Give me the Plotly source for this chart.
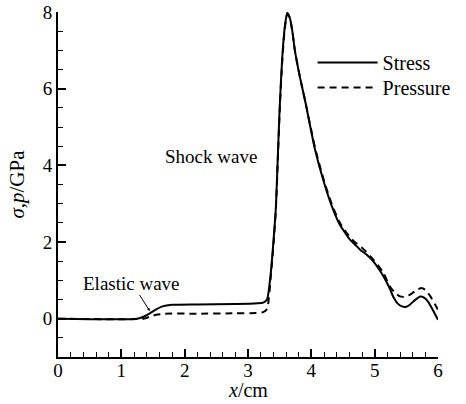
import plotly.graph_objects as go

# Stress curve (x in cm, sigma in GPa)
stress_x = [0, 1.25, 1.35, 1.45, 1.55, 1.65, 1.8, 2.2, 2.8, 3.15, 3.24, 3.30, 3.36, 3.41, 3.44, 3.47,
            3.50, 3.54, 3.58, 3.62, 3.66, 3.70, 3.74, 3.82, 3.90, 4.06, 4.20, 4.32, 4.45, 4.55, 4.61,
            4.68, 4.77, 4.88, 5.00, 5.14, 5.24, 5.30, 5.36, 5.43, 5.50, 5.56, 5.64, 5.72, 5.78,
            5.84, 5.92, 6.0]
stress_y = [0, 0, 0.05, 0.14, 0.24, 0.32, 0.36, 0.37, 0.38, 0.40, 0.42, 0.50, 1.2, 2.2, 2.9, 4.2,
            5.5, 6.8, 7.6, 7.98, 7.85, 7.5, 7.0, 6.3, 5.7, 4.4, 3.55, 2.95, 2.45, 2.2, 2.06,
            1.95, 1.8, 1.66, 1.45, 1.1, 0.78, 0.55, 0.40, 0.32, 0.31, 0.37, 0.49, 0.58, 0.55,
            0.45, 0.22, -0.03]

# Pressure curve
pressure_x = [0, 1.35, 1.45, 1.55, 1.69, 2.2, 2.8, 3.15, 3.24, 3.30, 3.36, 3.41, 3.44, 3.47,
              3.50, 3.54, 3.58, 3.62, 3.66, 3.70, 3.74, 3.82, 3.90, 4.06, 4.20, 4.32, 4.45, 4.55,
              4.67, 4.80, 4.93, 5.05, 5.14, 5.24, 5.32, 5.40, 5.48, 5.56, 5.66, 5.74, 5.80,
              5.88, 5.95, 6.0]
pressure_y = [0, 0, 0.05, 0.10, 0.13, 0.13, 0.14, 0.15, 0.17, 0.25, 1.1, 2.1, 2.85, 4.1,
              5.4, 6.7, 7.55, 7.95, 7.85, 7.5, 7.0, 6.3, 5.7, 4.45, 3.6, 3.0, 2.5, 2.25,
              2.02, 1.85, 1.63, 1.4, 1.19, 0.84, 0.68, 0.58, 0.57, 0.63, 0.74, 0.80, 0.75,
              0.58, 0.38, 0.23]

x_ticks = [0, 1, 2, 3, 4, 5, 6]
y_ticks = [0, 2, 4, 6, 8]

FONT = "Liberation Serif"

fig = go.Figure()
fig.add_trace(go.Scatter(x=stress_x, y=stress_y, mode="lines", name="Stress", legend="legend",
                         line=dict(color="black", width=2, shape="spline", smoothing=0.6)))
fig.add_trace(go.Scatter(x=pressure_x, y=pressure_y, mode="lines", name="Pressure", legend="legend2",
                         line=dict(color="black", width=2, dash="7px,5px", shape="spline", smoothing=0.6)))

legend_style = dict(xanchor="left", yanchor="top", bgcolor="rgba(0,0,0,0)",
                    font=dict(family=FONT, size=20), itemwidth=60)

fig.update_layout(
    width=466, height=404,
    margin=dict(l=58, r=28, t=12, b=47, autoexpand=False),
    paper_bgcolor="white", plot_bgcolor="white",
    font=dict(family=FONT, size=19, color="black"),
    showlegend=True,
    legend=dict(x=0.67, y=0.91, **legend_style),
    legend2=dict(x=0.67, y=0.838, **legend_style),
    xaxis=dict(range=[0, 6], tickvals=x_ticks, showgrid=False, zeroline=False, automargin=False,
               showline=True, linecolor="black", linewidth=2,
               ticks="inside", ticklen=8, tickwidth=2, tickcolor="black", ticklabelstandoff=-5,
               minor=dict(dtick=0.2, ticks="inside", ticklen=5, tickwidth=1, tickcolor="black", showgrid=False),
               tickfont=dict(size=19)),
    yaxis=dict(range=[-1, 8], tickvals=y_ticks, showgrid=False, zeroline=False, automargin=False,
               showline=True, linecolor="black", linewidth=2,
               ticks="inside", ticklen=8, tickwidth=2, tickcolor="black",
               minor=dict(dtick=0.5, ticks="inside", ticklen=5, tickwidth=1, tickcolor="black", showgrid=False),
               title=dict(text="<i>σ</i>,<i>p</i>/GPa", standoff=12, font=dict(size=21)),
               tickfont=dict(size=19)),
)

# x-axis title
fig.add_annotation(x=0.5, y=-0.095, xref="paper", yref="paper", text="<i>x</i>/cm", showarrow=False,
                   xanchor="center", yanchor="middle", font=dict(family=FONT, size=20))

fig.add_annotation(x=1.66, y=4.23, xref="x", yref="y", text="Shock wave", showarrow=False,
                   xanchor="left", yanchor="middle", font=dict(family=FONT, size=19))
fig.add_annotation(x=1.45, y=0.2, xref="x", yref="y", text="Elastic wave", showarrow=True,
                   ax=-18, ay=-28, arrowhead=2, arrowsize=0.6, arrowwidth=1, arrowcolor="black",
                   font=dict(family=FONT, size=19))

fig.write_html("out.html")
